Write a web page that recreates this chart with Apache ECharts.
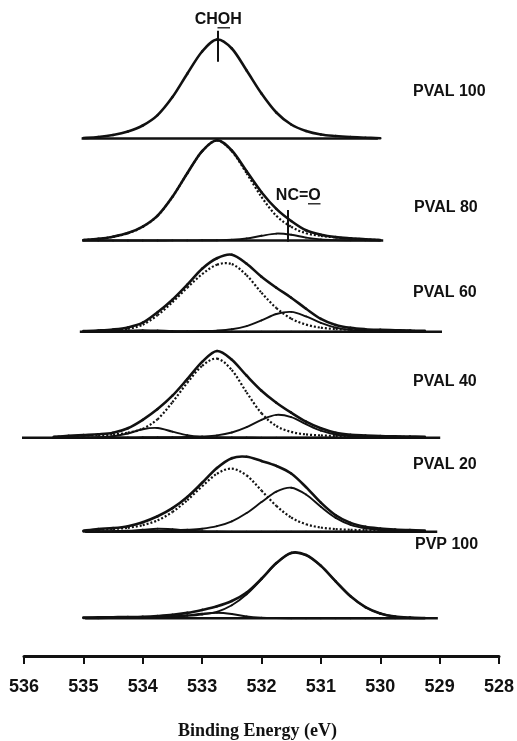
<!DOCTYPE html>
<html>
<head>
<meta charset="utf-8">
<script src="https://cdn.jsdelivr.net/npm/echarts@6/dist/echarts.min.js"></script>
<style>
html,body{margin:0;padding:0;background:#fff;}
#chart{width:517px;height:741px;}
</style>
</head>
<body>
<div id="chart"></div>
<script>
// ---------------- DATA ----------------
const energies = [535.5, 535.25, 535.0, 534.75, 534.5, 534.25, 534.0, 533.75, 533.5, 533.25, 533.0, 532.75, 532.5, 532.25, 532.0, 531.75, 531.5, 531.25, 531.0, 530.75, 530.5, 530.25, 530.0, 529.75, 529.5, 529.25];
const xTicks = [536, 535, 534, 533, 532, 531, 530, 529, 528];
const spectrumNames = ['PVAL 100', 'PVAL 80', 'PVAL 60', 'PVAL 40', 'PVAL 20', 'PVP 100'];
const baselineStart = [535.03, 535.02, 535.06, 536.07, 534.97, 534.97];
const baselineEnd = [530.04, 529.95, 528.96, 528.99, 529.04, 529.03];
const chohPeakEnergy = 532.73;
const ncoPeakEnergy = 531.55;

// PVAL 100
const pval100Envelope = [null, null, 0.5, 1.5, 3.5, 7, 13, 23.4, 41.4, 64.8, 87, 99, 90, 68, 45, 26, 14, 7.5, 4, 2.5, 1.5, 0.8, 0.3, null, null, null];
// PVAL 80
const pval80Envelope = [null, null, 0.5, 1.6, 3.8, 7.4, 13.8, 24.8, 43.7, 67.3, 89.4, 100.3, 90.0, 69.2, 48.3, 31.6, 19.5, 10.2, 5.8, 3.4, 2.2, 1.3, 0.5, null, null, null];
const pval80Choh = [null, null, 0.5, 1.5, 3.7, 7.3, 13.7, 24.7, 43.6, 67.2, 89.3, 100, 89.3, 67.2, 43.6, 24.7, 13.7, 7.3, 4.7, 3.0, 2.0, 1.2, 0.4, null, null, null];
const pval80Nco = [null, null, 0, 0, 0, 0, 0, 0, 0.1, 0.1, 0.2, 0.3, 0.7, 2.0, 4.7, 6.9, 5.8, 2.9, 1.1, 0.4, 0.2, 0.1, 0, null, null, null];
// PVAL 60
const pval60Envelope = [null, null, 0.6, 1.2, 2.2, 4.3, 9.0, 19.5, 32.0, 47.0, 63.0, 73.5, 77, 68, 55, 44, 34, 23, 12.8, 6.7, 3.8, 2.5, 1.9, 1.5, 1.1, 0.8];
const pval60Choh = [null, null, 0.4, 0.8, 1.5, 3.0, 7.0, 16.5, 29.5, 44.0, 57.5, 67.0, 67.6, 56.4, 39.0, 23.7, 13.1, 7.1, 4.0, 2.6, 2.0, 1.6, 1.3, 1.1, 0.8, 0.6];
const pval60Nco = [null, null, 0.1, 0.1, 0.1, 0.2, 0.3, 0.4, 0.4, 0.5, 0.7, 1.1, 2.4, 5.6, 11.3, 17.7, 19.8, 15.3, 8.8, 4.1, 1.8, 0.9, 0.6, 0.4, 0.3, 0.2];
const pval60High = [null, null, 0.1, 0.3, 0.7, 1.3, 1.6, 1.2, 0.6, 0.3, 0.1, 0.1, 0.1, 0.1, 0.1, 0.1, 0.1, 0.1, 0.1, 0.1, 0.1, 0.1, 0.1, 0.1, 0.1, 0.1];
// PVAL 40
const pval40Envelope = [0.8, 1.8, 2.6, 3.4, 5.0, 9.5, 17.9, 28.6, 42.0, 58.6, 75.8, 86.7, 78.0, 62.0, 47.0, 35.0, 25.0, 16.0, 9.4, 5.0, 3.0, 2.2, 1.6, 1.3, 1.1, 0.9];
const pval40Choh = [0.7, 1.4, 2.1, 2.6, 3.2, 5.0, 9.0, 18.5, 35.5, 55.0, 71.8, 79, 67.7, 45.2, 24.4, 11.7, 5.8, 3.3, 2.3, 1.7, 1.4, 1.2, 0.9, 0.8, 0.7, 0.6];
const pval40Nco = [0.1, 0.2, 0.2, 0.3, 0.3, 0.3, 0.4, 0.4, 0.5, 0.7, 1.2, 2.3, 5.2, 10.6, 17.9, 22.8, 20.6, 13.5, 7.0, 3.2, 1.5, 0.9, 0.6, 0.4, 0.3, 0.2];
const pval40High = [0.1, 0.2, 0.3, 0.5, 1.5, 4.2, 8.5, 9.7, 6.0, 2.4, 0.8, 0.4, 0.3, 0.2, 0.1, 0.1, 0.1, 0.1, 0.1, 0.1, 0.1, 0.1, 0.1, 0.1, 0.1, 0.1];
// PVAL 20
const pval20Envelope = [null, null, 1.0, 2.7, 3.6, 5.5, 9.5, 15.4, 23.5, 34.7, 48.9, 63.7, 73.5, 74.9, 70.7, 65.8, 58.2, 44.6, 29.1, 16.4, 8.8, 4.9, 3.2, 2.2, 1.6, 1.2];
const pval20Choh = [null, null, 0.8, 2.0, 2.7, 3.9, 6.6, 11.4, 19.7, 31.5, 45.4, 58.0, 63, 56.2, 41.1, 25.8, 14.2, 7.4, 4.2, 2.6, 1.9, 1.5, 1.3, 1.0, 0.8, 0.6];
const pval20Nco = [null, null, 0.2, 0.5, 0.6, 0.7, 0.9, 1.0, 1.3, 1.9, 3.0, 5.5, 10.4, 18.7, 29.6, 40.0, 44.0, 37.2, 24.9, 13.8, 6.9, 3.4, 1.9, 1.2, 0.8, 0.6];
const pval20High = [null, null, 0.1, 0.2, 0.3, 0.9, 2.0, 3.0, 2.5, 1.3, 0.5, 0.2, 0.1, 0.1, 0.1, 0.1, 0.1, 0.1, 0.1, 0.1, 0.1, 0.1, 0.1, 0.1, 0.1, 0.1];
// PVP 100
const pvp100Envelope = [null, null, 0.7, 0.9, 1.1, 1.3, 1.6, 2.3, 3.4, 5.4, 8.4, 12, 17.3, 25.8, 39.6, 55.2, 65.4, 63.3, 52.5, 36.9, 22.0, 11.2, 4.9, 1.8, 0.7, 0.3];
const pvp100Main = [null, null, 0.6, 0.8, 0.9, 1.0, 1.2, 1.4, 1.7, 2.4, 3.8, 6.5, 13, 24, 39, 55, 65.3, 63.2, 52.4, 36.8, 21.9, 11.1, 4.8, 1.7, 0.6, 0.2];
const pvp100High = [null, null, 0.1, 0.1, 0.2, 0.3, 0.4, 0.9, 1.7, 3.0, 4.6, 5.5, 4.3, 1.8, 0.6, 0.2, 0.1, 0.1, 0.1, 0.1, 0.1, 0.1, 0.1, 0.1, 0.1, 0.1];

// ---------------- LAYOUT ----------------
const stackOffset = [517.5, 415.5, 324.3, 218.3, 124.3, 37.7]; // vertical shift of each spectrum (y units = px)
const labelPos = [[413, 91.7], [414, 208], [413, 293], [413, 382], [413, 465], [415, 545]];
const INK = '#111';
const FONT_SANS = '"Liberation Sans", Arial, sans-serif';

const chart = echarts.init(document.getElementById('chart'), null, {renderer: 'canvas'});

function toPoints(vals, off) {
  const pts = [];
  vals.forEach((v, i) => { if (v !== null) pts.push([energies[i], off + v]); });
  return pts;
}
const styles = {
  env:    {stroke: INK, lineWidth: 2.6, lineDash: null, lineCap: 'round'},
  comp:   {stroke: INK, lineWidth: 1.9, lineDash: null, lineCap: 'round'},
  dotted: {stroke: INK, lineWidth: 2.2, lineDash: [2, 2], lineCap: 'butt'}
};
// smooth curve through the read points (Catmull-Rom segments in pixel space via api.coord)
function curve(vals, off, kind) {
  const pts = toPoints(vals, off);
  const st = styles[kind];
  return {
    type: 'custom', coordinateSystem: 'cartesian2d', silent: true,
    z: kind === 'env' ? 5 : 4,
    data: pts, encode: {x: 0, y: 1},
    renderItem: function (params, api) {
      const i = params.dataIndex;
      if (i >= pts.length - 1) return null;
      const P = k => api.coord(pts[Math.max(0, Math.min(pts.length - 1, k))]);
      const p0 = P(i - 1), p1 = P(i), p2 = P(i + 1), p3 = P(i + 2);
      return {
        type: 'bezierCurve',
        shape: {
          x1: p1[0], y1: p1[1], x2: p2[0], y2: p2[1],
          cpx1: p1[0] + (p2[0] - p0[0]) / 6, cpy1: p1[1] + (p2[1] - p0[1]) / 6,
          cpx2: p2[0] - (p3[0] - p1[0]) / 6, cpy2: p2[1] - (p3[1] - p1[1]) / 6
        },
        style: {stroke: st.stroke, lineWidth: st.lineWidth, lineDash: st.lineDash, fill: null, lineCap: st.lineCap}
      };
    }
  };
}
function baseline(k) {
  return {
    type: 'line', data: [[baselineStart[k], stackOffset[k]], [baselineEnd[k], stackOffset[k]]],
    showSymbol: false, silent: true, lineStyle: {color: INK, width: 2.6}, z: 3
  };
}

const series = [];
for (let k = 0; k < 6; k++) series.push(baseline(k));
series.push(curve(pval100Envelope, stackOffset[0], 'env'));
series.push(curve(pval80Choh, stackOffset[1], 'dotted'));
series.push(curve(pval80Nco, stackOffset[1], 'comp'));
series.push(curve(pval80Envelope, stackOffset[1], 'env'));
series.push(curve(pval60Choh, stackOffset[2], 'dotted'));
series.push(curve(pval60Nco, stackOffset[2], 'comp'));
series.push(curve(pval60High, stackOffset[2], 'comp'));
series.push(curve(pval60Envelope, stackOffset[2], 'env'));
series.push(curve(pval40Choh, stackOffset[3], 'dotted'));
series.push(curve(pval40Nco, stackOffset[3], 'comp'));
series.push(curve(pval40High, stackOffset[3], 'comp'));
series.push(curve(pval40Envelope, stackOffset[3], 'env'));
series.push(curve(pval20Choh, stackOffset[4], 'dotted'));
series.push(curve(pval20Nco, stackOffset[4], 'comp'));
series.push(curve(pval20High, stackOffset[4], 'comp'));
series.push(curve(pval20Envelope, stackOffset[4], 'env'));
series.push(curve(pvp100Main, stackOffset[5], 'comp'));
series.push(curve(pvp100High, stackOffset[5], 'comp'));
series.push(curve(pvp100Envelope, stackOffset[5], 'env'));

// annotation ticks (CHOH over PVAL 100 peak, NC=O on PVAL 80)
series.push({
  type: 'line', data: [], silent: true,
  markLine: {
    silent: true, symbol: ['none', 'none'], label: {show: false},
    lineStyle: {color: INK, width: 2, type: 'solid'},
    data: [
      [{coord: [chohPeakEnergy, stackOffset[0] + 107.8]}, {coord: [chohPeakEnergy, stackOffset[0] + 76.8]}],
      [{coord: [ncoPeakEnergy, stackOffset[1] + 30.5]}, {coord: [ncoPeakEnergy, stackOffset[1] - 1.2]}]
    ]
  }
});

const graphics = [];
spectrumNames.forEach((name, k) => {
  graphics.push({
    type: 'text', x: labelPos[k][0], y: labelPos[k][1], silent: true,
    style: {text: name, font: 'bold 16px ' + FONT_SANS, fill: INK, align: 'left', verticalAlign: 'middle'}
  });
});
graphics.push({type: 'text', x: 218.3, y: 19.7, silent: true,
  style: {text: 'CHOH', font: 'bold 16px ' + FONT_SANS, fill: INK, align: 'center', verticalAlign: 'middle'}});
graphics.push({type: 'line', silent: true, shape: {x1: 217.5, y1: 27.8, x2: 230, y2: 27.8}, style: {stroke: INK, lineWidth: 1.3}});
graphics.push({type: 'text', x: 298.3, y: 196, silent: true,
  style: {text: 'NC=O', font: 'bold 16px ' + FONT_SANS, fill: INK, align: 'center', verticalAlign: 'middle'}});
graphics.push({type: 'line', silent: true, shape: {x1: 308, y1: 203.8, x2: 320.5, y2: 203.8}, style: {stroke: INK, lineWidth: 1.3}});

chart.setOption({
  animation: false,
  backgroundColor: '#fff',
  grid: {left: 24, right: 18, top: 0, bottom: 85, containLabel: false, outerBoundsMode: 'none'},
  xAxis: {
    type: 'value', min: 528, max: 536, interval: 1, inverse: true, position: 'bottom',
    axisLine: {onZero: false, lineStyle: {color: INK, width: 3}},
    axisTick: {length: 8, lineStyle: {color: INK, width: 2}},
    axisLabel: {margin: 22, fontSize: 18, fontWeight: 'bold', fontFamily: FONT_SANS, color: INK,
      formatter: v => xTicks.includes(v) ? String(v) : ''},
    splitLine: {show: false},
    name: 'Binding Energy (eV)', nameLocation: 'middle', nameGap: 66,
    nameTextStyle: {fontFamily: '"Liberation Serif", "Times New Roman", serif', fontWeight: 'bold', fontSize: 18, color: INK, padding: [0, 8, 0, 0]}
  },
  yAxis: {type: 'value', min: 0, max: 656, show: false},
  series: series,
  graphic: graphics
});
</script>
</body>
</html>
